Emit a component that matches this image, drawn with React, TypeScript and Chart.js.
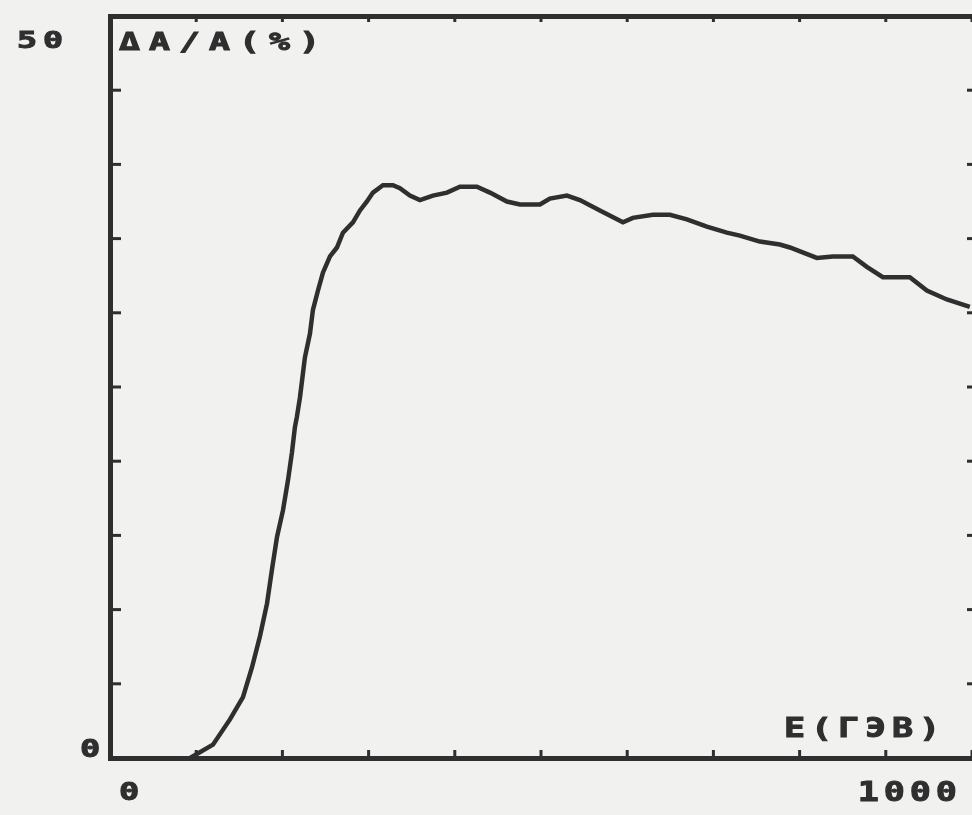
import { useEffect, useRef } from 'react';
import { Chart, registerables } from 'chart.js';

Chart.register(...registerables);

// Energy E (GeV)
const energy = [
  92.0, 118.4, 137.9, 152.9, 163.2, 172.4, 180.5, 186.2, 192.0, 198.9,
  204.6, 209.2, 212.6, 214.9, 218.4, 224.1, 229.9, 233.3, 239.1, 244.8,
  252.9, 260.9, 267.8, 279.3, 287.4, 295.4, 302.3, 313.8, 325.3, 333.3,
  344.8, 356.3, 371.3, 387.4, 402.3, 421.8, 436.8, 456.3, 471.3, 494.3,
  505.7, 525.3, 540.2, 563.2, 589.7, 601.1, 624.1, 643.7, 663.2, 686.2,
  709.2, 724.1, 747.1, 770.1, 781.6, 812.6, 831.0, 854.0, 870.1, 888.5,
  919.5, 939.1, 962.1, 988.5,
];

// Asymmetry ΔA/A (%)
const asymmetry = [
  0.0, 0.9, 2.6, 4.1, 6.1, 8.2, 10.4, 12.7, 14.9, 16.7,
  18.7, 20.6, 22.3, 23.0, 24.3, 27.0, 28.6, 30.2, 31.5, 32.7,
  33.8, 34.4, 35.4, 36.1, 36.9, 37.5, 38.1, 38.6, 38.6, 38.4,
  37.9, 37.6, 37.9, 38.1, 38.5, 38.5, 38.1, 37.5, 37.3, 37.3,
  37.7, 37.9, 37.6, 36.9, 36.1, 36.4, 36.6, 36.6, 36.3, 35.8,
  35.4, 35.2, 34.8, 34.6, 34.4, 33.7, 33.8, 33.8, 33.1, 32.4,
  32.4, 31.5, 30.9, 30.4,
];

const yTickLabels = ['0', '50'];
const xTickLabels = ['0', '1000'];
const yTitle = 'ΔA/A(%)';
const xTitle = 'E(ГЭВ)';

const INK = '#2f2f2f';
const PAPER = '#f1f1ef';

function drawText(
  ctx: CanvasRenderingContext2D,
  text: string,
  left: number,
  cy: number,
  size: number,
  advance: number,
  stretch: number
) {
  ctx.save();
  ctx.font = `bold ${size}px "DejaVu Sans Mono"`;
  ctx.fillStyle = INK;
  ctx.strokeStyle = INK;
  ctx.lineWidth = 1;
  ctx.textBaseline = 'middle';
  ctx.textAlign = 'left';
  const chars = Array.from(text);
  chars.forEach((ch, i) => {
    ctx.save();
    ctx.translate(left + i * advance, cy);
    ctx.scale(stretch, 1);
    ctx.fillText(ch, 0, 0);
    ctx.strokeText(ch, 0, 0);
    ctx.restore();
  });
  ctx.restore();
}

const decor = {
  id: 'decor',
  afterDraw(chart: any) {
    const { ctx, chartArea: a, scales } = chart;
    const x = scales.x;
    const y = scales.y;
    ctx.save();
    ctx.strokeStyle = INK;
    ctx.lineWidth = 3;
    ctx.lineCap = 'butt';
    const seg = (x1: number, y1: number, x2: number, y2: number) => {
      ctx.beginPath();
      ctx.moveTo(x1, y1);
      ctx.lineTo(x2, y2);
      ctx.stroke();
    };
    // inward ticks on left and right
    y.ticks.forEach((t: any) => {
      if (t.value <= 0 || t.value >= 50) return;
      const py = y.getPixelForValue(t.value);
      seg(a.left, py, a.left + 11, py);
      seg(a.right - 5, py, a.right, py);
    });
    // inward ticks on bottom and top
    x.ticks.forEach((t: any) => {
      if (t.value <= 0) return;
      const px = x.getPixelForValue(t.value);
      seg(px, a.bottom, px, a.bottom - 8);
      seg(px, a.top, px, a.top + 6);
    });
    ctx.restore();

    // tick labels
    drawText(ctx, yTickLabels[1], 17, y.getPixelForValue(50) + 26, 23, 26, 1.45);
    drawText(ctx, yTickLabels[0], 80, y.getPixelForValue(0) - 8, 25, 26, 1.35);
    drawText(ctx, xTickLabels[0], x.getPixelForValue(0) + 9, a.bottom + 35, 25, 26, 1.35);
    drawText(ctx, xTickLabels[1], x.getPixelForValue(1000) - 122, a.bottom + 36, 27, 26, 1.3);
    // axis titles
    drawText(ctx, yTitle, a.left + 9, a.top + 28, 24, 30, 1.45);
    drawText(ctx, xTitle, 784, a.bottom - 28, 26, 27, 1.35);
  },
};

export default function App() {
  const ref = useRef<HTMLCanvasElement>(null);

  useEffect(() => {
    if (!ref.current) return;
    const chart = new Chart(ref.current, {
      type: 'line',
      data: {
        datasets: [
          {
            data: energy.map((e, i) => ({ x: e, y: asymmetry[i] })),
            borderColor: INK,
            borderWidth: 4.5,
            pointRadius: 0,
            tension: 0,
            fill: false,
          },
        ],
      },
      options: {
        animation: false,
        responsive: true,
        maintainAspectRatio: false,
        layout: { padding: { left: 110, top: 16, right: 0, bottom: 57 } },
        plugins: { legend: { display: false }, tooltip: { enabled: false } },
        scales: {
          x: {
            type: 'linear',
            min: 0,
            max: 991,
            ticks: { display: false, stepSize: 100 },
            grid: { display: false, drawTicks: false },
            border: { display: true, color: INK, width: 5 },
            afterFit: (s: any) => { s.height = 0; },
          },
          x2: {
            type: 'linear',
            position: 'top',
            display: true,
            min: 0,
            max: 991,
            ticks: { display: false },
            grid: { display: false, drawTicks: false },
            border: { display: true, color: INK, width: 5 },
            afterFit: (s: any) => { s.height = 0; },
          },
          y: {
            type: 'linear',
            min: 0,
            max: 50,
            ticks: { display: false, stepSize: 5 },
            grid: { display: false, drawTicks: false },
            border: { display: true, color: INK, width: 5 },
            afterFit: (s: any) => { s.width = 0; },
          },
        },
      } as any,
      plugins: [decor],
    });
    return () => chart.destroy();
  }, []);

  return (
    <div
      style={{
        position: 'absolute',
        left: 0,
        top: 0,
        width: 972,
        height: 815,
        background: PAPER,
      }}
    >
      <canvas ref={ref} />
    </div>
  );
}
